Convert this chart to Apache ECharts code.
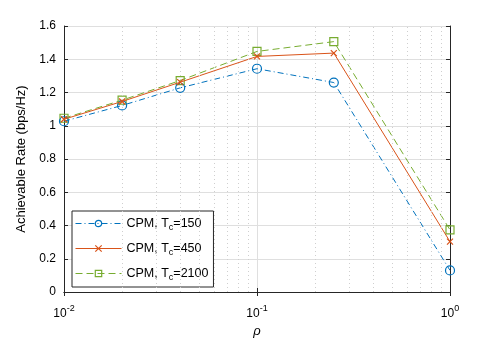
<!DOCTYPE html>
<html>
<head>
<meta charset="utf-8">
<script src="https://cdn.jsdelivr.net/npm/echarts@6/dist/echarts.min.js"></script>
<style>
  html, body { margin: 0; padding: 0; background: #fff; }
  #chart { width: 498px; height: 343px; }
</style>
</head>
<body>
<div id="chart"></div>
<script>
// rho values (log x axis)
const rho = [0.01, 0.02, 0.04, 0.1, 0.25, 1];
// achievable rate for each coherence time
const rateTc150 = [1.027, 1.122, 1.228, 1.343, 1.260, 0.130];
const rateTc450 = [1.039, 1.146, 1.262, 1.417, 1.437, 0.303];
const rateTc2100 = [1.045, 1.154, 1.272, 1.447, 1.506, 0.374];
const seriesNames = ['CPM, T{sub|c}=150', 'CPM, T{sub|c}=450', 'CPM, T{sub|c}=2100'];
// minor grid positions on the log axis
const minorTicks = [0.02, 0.03, 0.04, 0.05, 0.06, 0.07, 0.08, 0.09,
                    0.2, 0.3, 0.4, 0.5, 0.6, 0.7, 0.8, 0.9];

const axisColor = '#262626';
const font = 'Liberation Sans, Arial, sans-serif';

const circlePath = 'path://M10,5A5,5,0,1,1,0,5A5,5,0,1,1,10,5Z';
const crossPath = 'path://M0,0L10,10M10,0L0,10';
const squarePath = 'path://M0,0L10,0L10,10L0,10Z';

const chart = echarts.init(document.getElementById('chart'));

function pairs(ys) {
  return rho.map((x, i) => [x, ys[i]]);
}

const option = {
  animation: false,
  textStyle: { fontFamily: font },
  grid: { left: 64, right: 48, top: 26, bottom: 49 },
  legend: {
    left: 72, top: 211,
    orient: 'vertical',
    itemWidth: 46, itemHeight: 8, itemGap: 10,
    padding: [6, 5, 5, 3],
    borderColor: axisColor, borderWidth: 1,
    backgroundColor: '#fff',
    data: seriesNames,
    formatter: n => n,
    lineStyle: { width: 1 },
    itemStyle: { borderWidth: 1.2 },
    textStyle: {
      fontFamily: font, fontSize: 12.5, color: '#000',
      rich: {
        sub: { fontSize: 9, padding: [8, 0, 0, 0], fontFamily: font, color: '#000' }
      }
    }
  },
  xAxis: [{
    type: 'log', logBase: 10, min: 0.01, max: 1,
    name: 'ρ', nameLocation: 'middle', nameGap: 33,
    nameTextStyle: { fontStyle: 'italic', fontSize: 13, color: '#000', fontFamily: font },
    axisLine: { lineStyle: { color: axisColor } },
    axisTick: { inside: true, length: 4, lineStyle: { color: axisColor } },
    splitLine: { show: true, lineStyle: { color: '#dfdfdf' } },
    axisLabel: {
      color: '#000', fontSize: 12, margin: 12,
      formatter: v => '10{sup|' + Math.round(Math.log10(v)) + '}',
      rich: {
        sup: { fontSize: 9, padding: [0, 0, 10, 0], color: '#000', fontFamily: font }
      }
    }
  }, {
    type: 'log', logBase: 10, min: 0.01, max: 1, position: 'top',
    axisLine: { lineStyle: { color: axisColor } },
    axisTick: { inside: true, length: 4, lineStyle: { color: axisColor } },
    axisLabel: { show: false },
    splitLine: { show: false }
  }],
  yAxis: [{
    type: 'value', min: 0, max: 1.6, interval: 0.2,
    name: 'Achievable Rate (bps/Hz)', nameLocation: 'middle', nameGap: 36,
    nameTextStyle: { fontSize: 13, color: '#000', fontFamily: font },
    axisLine: { show: true, lineStyle: { color: axisColor } },
    axisTick: { show: true, inside: true, length: 4, lineStyle: { color: axisColor } },
    splitLine: { show: true, lineStyle: { color: '#dfdfdf' } },
    axisLabel: { color: '#000', fontSize: 12, margin: 8, formatter: v => String(+v.toFixed(1)) }
  }, {
    type: 'value', min: 0, max: 1.6, interval: 0.2, position: 'right',
    axisLine: { show: true, lineStyle: { color: axisColor } },
    axisTick: { show: true, inside: true, length: 4, lineStyle: { color: axisColor } },
    axisLabel: { show: false },
    splitLine: { show: false }
  }],
  series: [{
    name: seriesNames[0], type: 'line', data: pairs(rateTc150),
    symbol: circlePath, symbolSize: 9,
    lineStyle: { color: '#0072BD', width: 1, type: [6, 3, 1, 3] },
    itemStyle: { color: 'none', borderColor: '#0072BD', borderWidth: 1.2 },
    z: 3,
    markLine: {
      silent: true, symbol: 'none', label: { show: false },
      lineStyle: { color: '#cfcfcf', type: [1, 3], width: 1 },
      data: minorTicks.map(v => ({ xAxis: v }))
    }
  }, {
    name: seriesNames[1], type: 'line', data: pairs(rateTc450),
    symbol: crossPath, symbolSize: 6,
    lineStyle: { color: '#D95319', width: 1 },
    itemStyle: { color: 'none', borderColor: '#D95319', borderWidth: 1.2 },
    z: 4
  }, {
    name: seriesNames[2], type: 'line', data: pairs(rateTc2100),
    symbol: squarePath, symbolSize: 8,
    lineStyle: { color: '#77AC30', width: 1, type: [7, 4] },
    itemStyle: { color: 'none', borderColor: '#77AC30', borderWidth: 1.2 },
    z: 2
  }]
};

chart.setOption(option);
</script>
</body>
</html>
